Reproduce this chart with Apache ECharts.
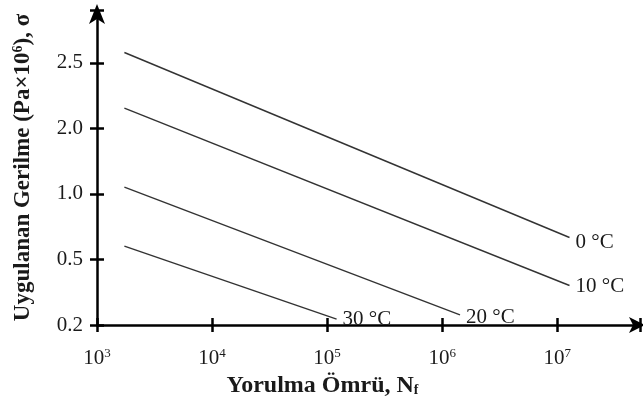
<!DOCTYPE html>
<html><head><meta charset="utf-8">
<script src="https://cdn.jsdelivr.net/npm/echarts@6/dist/echarts.min.js"></script>
<style>html,body{margin:0;padding:0;background:#fff}#c{width:643px;height:403px}</style>
</head><body><div id="c"></div>
<script>
// ---- data ----
const temps = ['0 °C', '10 °C', '20 °C', '30 °C'];
const lifeStart = [1730, 1730, 1730, 1730];          // N_f at start of each line
const lifeEnd = [1.28e7, 1.28e7, 1.43e6, 1.21e5];     // N_f at end of each line
const stressStart = [2.58, 2.155, 1.106, 0.602];      // σ (Pa×10^6) at start
const stressEnd = [0.668, 0.381, 0.246, 0.227];       // σ at end
const yTicks = [0.2, 0.5, 1.0, 2.0, 2.5];             // y tick labels (equally spaced)
const xTickExp = [3, 4, 5, 6, 7];                     // x tick exponents

// map stress value to the (non-uniform) y scale: equal spacing between tick values
function yPos(v) {
  for (let i = 0; i < yTicks.length - 1; i++) {
    if (v <= yTicks[i + 1]) return i + (v - yTicks[i]) / (yTicks[i + 1] - yTicks[i]);
  }
  const n = yTicks.length - 1;
  return n + (v - yTicks[n]) / (yTicks[n] - yTicks[n - 1]);
}

const font = '"Liberation Serif","Times New Roman",serif';
const txt = '#1a1a1a';
const labelOffsets = [[0, 5], [0, 1], [0, 3], [0, 0]];

const series = temps.map((t, i) => ({
  type: 'line',
  name: t,
  symbol: 'none',
  lineStyle: { color: '#333', width: 1.4 },
  endLabel: { show: true, distance: 6, offset: labelOffsets[i],
    formatter: t, fontFamily: font, fontSize: 21, color: txt },
  data: [
    [lifeStart[i], yPos(stressStart[i])],
    [lifeEnd[i], yPos(stressEnd[i])]
  ],
  silent: true
}));

const supRich = {
  n: { fontFamily: font, fontSize: 21, color: txt },
  s: { fontFamily: font, fontSize: 13, color: txt, padding: [0, 0, 10, 0] }
};

const xCommon = {
  type: 'log', logBase: 10, min: 1000, max: Math.pow(10, 7.72),
  position: 'bottom', splitLine: { show: false }
};
const yCommon = {
  type: 'value', min: 0, max: (324 - 10) / 65.3, interval: 1,
  position: 'left', splitLine: { show: false }
};

const option = {
  animation: false,
  grid: { left: 97, right: 3, top: 10, bottom: 78, containLabel: false },
  xAxis: [
    Object.assign({}, xCommon, {
      name: 'Yorulma Ömrü, N{f|f}',
      nameLocation: 'middle', nameGap: 47,
      nameTextStyle: { fontFamily: font, fontSize: 24, fontWeight: 'bold', color: txt,
        padding: [0, 92, 0, 0],
        rich: { f: { fontFamily: font, fontSize: 14, fontWeight: 'bold', color: txt, padding: [9, 0, 0, 0] } } },
      axisLine: { show: true, lineStyle: { color: '#000', width: 2.5 },
        symbol: ['none', 'arrow'], symbolSize: [12, 16], symbolOffset: [0, 5] },
      axisTick: { show: true, length: 7, lineStyle: { color: '#000', width: 2.5 } },
      axisLabel: { margin: 22, formatter: v => {
        const e = Math.round(Math.log10(v));
        if (Math.abs(Math.log10(v) - e) > 1e-6 || xTickExp.indexOf(e) < 0) return '';
        return '{n|10}{s|' + e + '}';
      }, rich: supRich }
    }),
    Object.assign({}, xCommon, {
      axisLine: { show: false }, axisLabel: { show: false },
      axisTick: { show: true, inside: true, length: 7, lineStyle: { color: '#000', width: 2.5 } }
    })
  ],
  yAxis: [
    Object.assign({}, yCommon, {
      name: 'Uygulanan Gerilme (Pa×10{s|6}), σ',
      nameLocation: 'middle', nameGap: 62,
      nameTextStyle: { fontFamily: font, fontSize: 23, fontWeight: 'bold', color: txt,
        rich: { s: { fontFamily: font, fontSize: 14, fontWeight: 'bold', color: txt, padding: [0, 0, 10, 0] } } },
      axisLine: { show: true, lineStyle: { color: '#000', width: 2.5 },
        symbol: ['none', 'arrow'], symbolSize: [12, 20], symbolOffset: [0, 6] },
      axisTick: { show: true, length: 7, lineStyle: { color: '#000', width: 2.5 } },
      axisLabel: { margin: 14, fontFamily: font, fontSize: 21, color: txt,
        formatter: v => {
          const i = Math.round(v);
          if (Math.abs(v - i) > 1e-6 || i >= yTicks.length) return '';
          return yTicks[i].toFixed(1);
        } }
    }),
    Object.assign({}, yCommon, {
      axisLine: { show: false }, axisLabel: { show: false },
      axisTick: { show: true, inside: true, length: 7, lineStyle: { color: '#000', width: 2.5 } }
    })
  ],
  series: series
};

const chart = echarts.init(document.getElementById('c'), null, { renderer: 'canvas' });
chart.setOption(option);
</script>
</body></html>
